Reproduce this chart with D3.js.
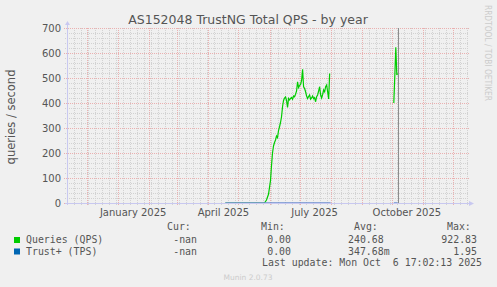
<!DOCTYPE html>
<html lang="en">
<head>
<meta charset="UTF-8">
<title>AS152048 TrustNG Total QPS - by year</title>
<script src="https://d3js.org/d3.v7.min.js"></script>
<style>
    body { margin: 0; background: #f0f0f0; }
    svg text { font-family: 'DejaVu Sans', sans-serif; }
    .mono { font-family: 'DejaVu Sans Mono', monospace; font-size: 9.9px; fill: #555; }
</style>
</head>
<body>
<div id="chart"></div>
<script>
    // queries per second, one sample per day
    const qpsDates = [
        "2025-04-18", "2025-05-27", "2025-05-29", "2025-05-31", "2025-06-02", "2025-06-03",
        "2025-06-04", "2025-06-05", "2025-06-06", "2025-06-07", "2025-06-08", "2025-06-09",
        "2025-06-10", "2025-06-11", "2025-06-12", "2025-06-13", "2025-06-14", "2025-06-15",
        "2025-06-16", "2025-06-17", "2025-06-18", "2025-06-19", "2025-06-20", "2025-06-21",
        "2025-06-22", "2025-06-23", "2025-06-24", "2025-06-25", "2025-06-26", "2025-06-27",
        "2025-06-28", "2025-06-29", "2025-06-30", "2025-07-01", "2025-07-02", "2025-07-03",
        "2025-07-04", "2025-07-05", "2025-07-06", "2025-07-07", "2025-07-08", "2025-07-09",
        "2025-07-10", "2025-07-11", "2025-07-12", "2025-07-13", "2025-07-14", "2025-07-15",
        "2025-07-16", "2025-07-17", "2025-07-18", "2025-07-19", "2025-07-20", "2025-07-21",
        "2025-07-22", "2025-07-23", "2025-07-24", "2025-07-25", "2025-07-26", "2025-07-27",
        "2025-07-28", "2025-07-29", "2025-07-30", "2025-07-31",
        "2025-10-03", "2025-10-04", "2025-10-05", "2025-10-06", "2025-10-06T17:00"
    ];
    const qpsValues = [
        0, 0, 12, 35, 90, 150,
        200, 228, 242, 252, 268, 262,
        290, 305, 322, 345, 385, 410,
        420, 424, 410, 382, 418, 412,
        418, 422, 415, 428, 425, 435,
        448, 485, 462, 470, 474, 490,
        535, 465, 458, 445, 428, 418,
        426, 432, 415, 420, 428, 417,
        421, 405, 425, 432, 448, 465,
        432, 420, 434, 452, 445, 465,
        472, 445, 416, 518,
        400, 510, 623, 512, 518
    ];
    // Trust+ transactions per second (tiny, sits on the baseline)
    const tpsDates = ["2025-04-18", "2025-05-20", "2025-06-20", "2025-07-20", "2025-08-01",
                      "2025-10-03", "2025-10-06T17:00"];
    const tpsValues = [0.2, 0.3, 0.4, 0.4, 0.3, 0.4, 0.3];

    const yTicks = [0, 100, 200, 300, 400, 500, 600, 700];
    const monthLabels = ["2025-01-01", "2025-04-01", "2025-07-01", "2025-10-01"];
    const lastUpdate = "2025-10-06T17:02:13";

    const legendRows = [
        { name: "Queries (QPS)", color: "#00cc00", cur: "-nan", min: "0.00", avg: "240.68", max: "922.83" },
        { name: "Trust+ (TPS)", color: "#0066b3", cur: "-nan", min: "0.00", avg: "347.68m", max: "1.95" }
    ];

    const W = 497, H = 287;
    const pLeft = 67, pRight = 469, pTop = 28, pBottom = 203;
    const parse = s => new Date(s.length > 10 ? s + "Z" : s + "T00:00:00Z");

    const svg = d3.select("#chart").append("svg")
        .attr("width", W).attr("height", H);
    svg.append("rect").attr("width", W).attr("height", H).attr("fill", "#f0f0f0");

    const x = d3.scaleUtc()
        .domain([parse("2024-11-11"), parse("2025-12-17")])
        .range([pLeft, pRight]);
    const y = d3.scaleLinear().domain([0, 700]).range([pBottom, pTop]);

    // grid
    const grid = svg.append("g").attr("shape-rendering", "crispEdges");
    const weeks = d3.utcMonday.range(x.domain()[0], x.domain()[1]);
    const months = d3.utcMonth.range(x.domain()[0], x.domain()[1]);
    const minorY = d3.range(20, 701, 20).filter(v => v % 100 !== 0);
    const minorCol = "#d2d2d2", majorCol = "#eab0b0";

    grid.selectAll(".vmin").data(weeks).join("line")
        .attr("x1", d => Math.round(x(d)) + 0.5).attr("x2", d => Math.round(x(d)) + 0.5)
        .attr("y1", pTop).attr("y2", pBottom + 2)
        .attr("stroke", minorCol).attr("stroke-dasharray", "1,1");
    grid.selectAll(".hmin").data(minorY).join("line")
        .attr("x1", pLeft - 2).attr("x2", pRight)
        .attr("y1", d => Math.round(y(d)) + 0.5).attr("y2", d => Math.round(y(d)) + 0.5)
        .attr("stroke", minorCol).attr("stroke-dasharray", "1,1");
    grid.selectAll(".vmaj").data(months).join("line")
        .attr("x1", d => Math.round(x(d)) + 0.5).attr("x2", d => Math.round(x(d)) + 0.5)
        .attr("y1", pTop).attr("y2", pBottom + 3)
        .attr("stroke", majorCol).attr("stroke-dasharray", "1,1");
    grid.selectAll(".hmaj").data(yTicks).join("line")
        .attr("x1", pLeft - 3).attr("x2", pRight)
        .attr("y1", d => Math.round(y(d)) + 0.5).attr("y2", d => Math.round(y(d)) + 0.5)
        .attr("stroke", majorCol).attr("stroke-dasharray", "1,1");

    // y axis labels
    svg.append("g").selectAll("text").data(yTicks).join("text")
        .attr("x", pLeft - 6).attr("y", d => y(d) + 3.5)
        .attr("text-anchor", "end").attr("font-size", 10).attr("fill", "#555")
        .text(d => d);

    // x axis labels, centred mid-month like rrdtool
    svg.append("g").selectAll("text").data(monthLabels.map(parse)).join("text")
        .attr("x", d => x(d3.utcDay.offset(d, 15)))
        .attr("y", 216)
        .attr("text-anchor", "middle").attr("font-size", 10).attr("fill", "#555")
        .text(d => d3.utcFormat("%B %Y")(d));

    // series
    const line = d3.line().x(d => x(d[0])).y(d => y(d[1]));
    const qps = qpsDates.map((d, i) => [parse(d), qpsValues[i]]);
    const tps = tpsDates.map((d, i) => [parse(d), tpsValues[i]]);
    // break the line where there is no data
    const segments = [qps.slice(0, 64), qps.slice(64)];
    svg.selectAll(".qps").data(segments).join("path")
        .attr("d", line).attr("fill", "none")
        .attr("stroke", "#00cc00").attr("stroke-width", 1.2);
    svg.selectAll(".tps").data([tps.slice(0, 5), tps.slice(5)]).join("path")
        .attr("d", line).attr("fill", "none")
        .attr("stroke", "#6e8fd0").attr("stroke-width", 1.2);

    // "now" marker
    const nowX = Math.round(x(parse(lastUpdate))) + 0.5;
    svg.append("line")
        .attr("x1", nowX).attr("x2", nowX).attr("y1", pTop).attr("y2", pBottom)
        .attr("stroke", "#8c8c8c").attr("stroke-width", 1);

    // axes with arrows
    const axisColor = "#c8c8f0";
    svg.append("line").attr("x1", pLeft + 0.5).attr("x2", pLeft + 0.5)
        .attr("y1", pTop - 3).attr("y2", pBottom + 2).attr("stroke", axisColor);
    svg.append("line").attr("x1", pLeft - 2).attr("x2", pRight)
        .attr("y1", pBottom + 0.5).attr("y2", pBottom + 0.5).attr("stroke", axisColor);
    svg.append("path").attr("d", `M${pLeft - 2},${pTop - 3}L${pLeft + 0.5},${pTop - 7}L${pLeft + 3},${pTop - 3}Z`)
        .attr("fill", axisColor);
    svg.append("path").attr("d", `M${pRight},${pBottom - 2}L${pRight + 5},${pBottom + 0.5}L${pRight},${pBottom + 3}Z`)
        .attr("fill", axisColor);

    // titles
    svg.append("text").attr("x", 248).attr("y", 24)
        .attr("text-anchor", "middle").attr("font-size", 12.5).attr("fill", "#555")
        .text("AS152048 TrustNG Total QPS - by year");
    svg.append("text").attr("transform", "translate(15,117) rotate(-90)")
        .attr("text-anchor", "middle").attr("font-size", 11.5).attr("fill", "#555")
        .text("queries / second");
    svg.append("text").attr("transform", "translate(485,5) rotate(90)")
        .attr("font-size", 8).attr("fill", "#ccc")
        .attr("textLength", 96).attr("lengthAdjust", "spacingAndGlyphs")
        .text("RRDTOOL / TOBI OETIKER");

    // legend
    const lg = svg.append("g");
    const heads = [["Cur:", 167], ["Min:", 261], ["Avg:", 354], ["Max:", 447]];
    lg.selectAll(".head").data(heads).join("text").attr("class", "mono")
        .attr("x", d => d[1]).attr("y", 230).text(d => d[0]);
    legendRows.forEach((r, i) => {
        const yy = 243 + i * 11.5;
        lg.append("rect").attr("x", 14).attr("y", yy - 6).attr("width", 6).attr("height", 6)
            .attr("fill", r.color);
        lg.append("text").attr("class", "mono").attr("x", 26).attr("y", yy).text(r.name);
        lg.append("text").attr("class", "mono").attr("x", 197).attr("y", yy)
            .attr("text-anchor", "end").text(r.cur);
        lg.append("text").attr("class", "mono").attr("x", 291).attr("y", yy)
            .attr("text-anchor", "end").text(r.min);
        lg.append("text").attr("class", "mono").attr("x", 348).attr("y", yy).text(r.avg);
        lg.append("text").attr("class", "mono").attr("x", 477).attr("y", yy)
            .attr("text-anchor", "end").text(r.max);
    });
    lg.append("text").attr("class", "mono").attr("x", 262).attr("y", 266)
        .text("Last update: Mon Oct\u00a0 6 17:02:13 2025");
    svg.append("text").attr("x", 248).attr("y", 280)
        .attr("text-anchor", "middle").attr("font-size", 7.5).attr("fill", "#ccc")
        .text("Munin 2.0.73");
</script>
</body>
</html>
